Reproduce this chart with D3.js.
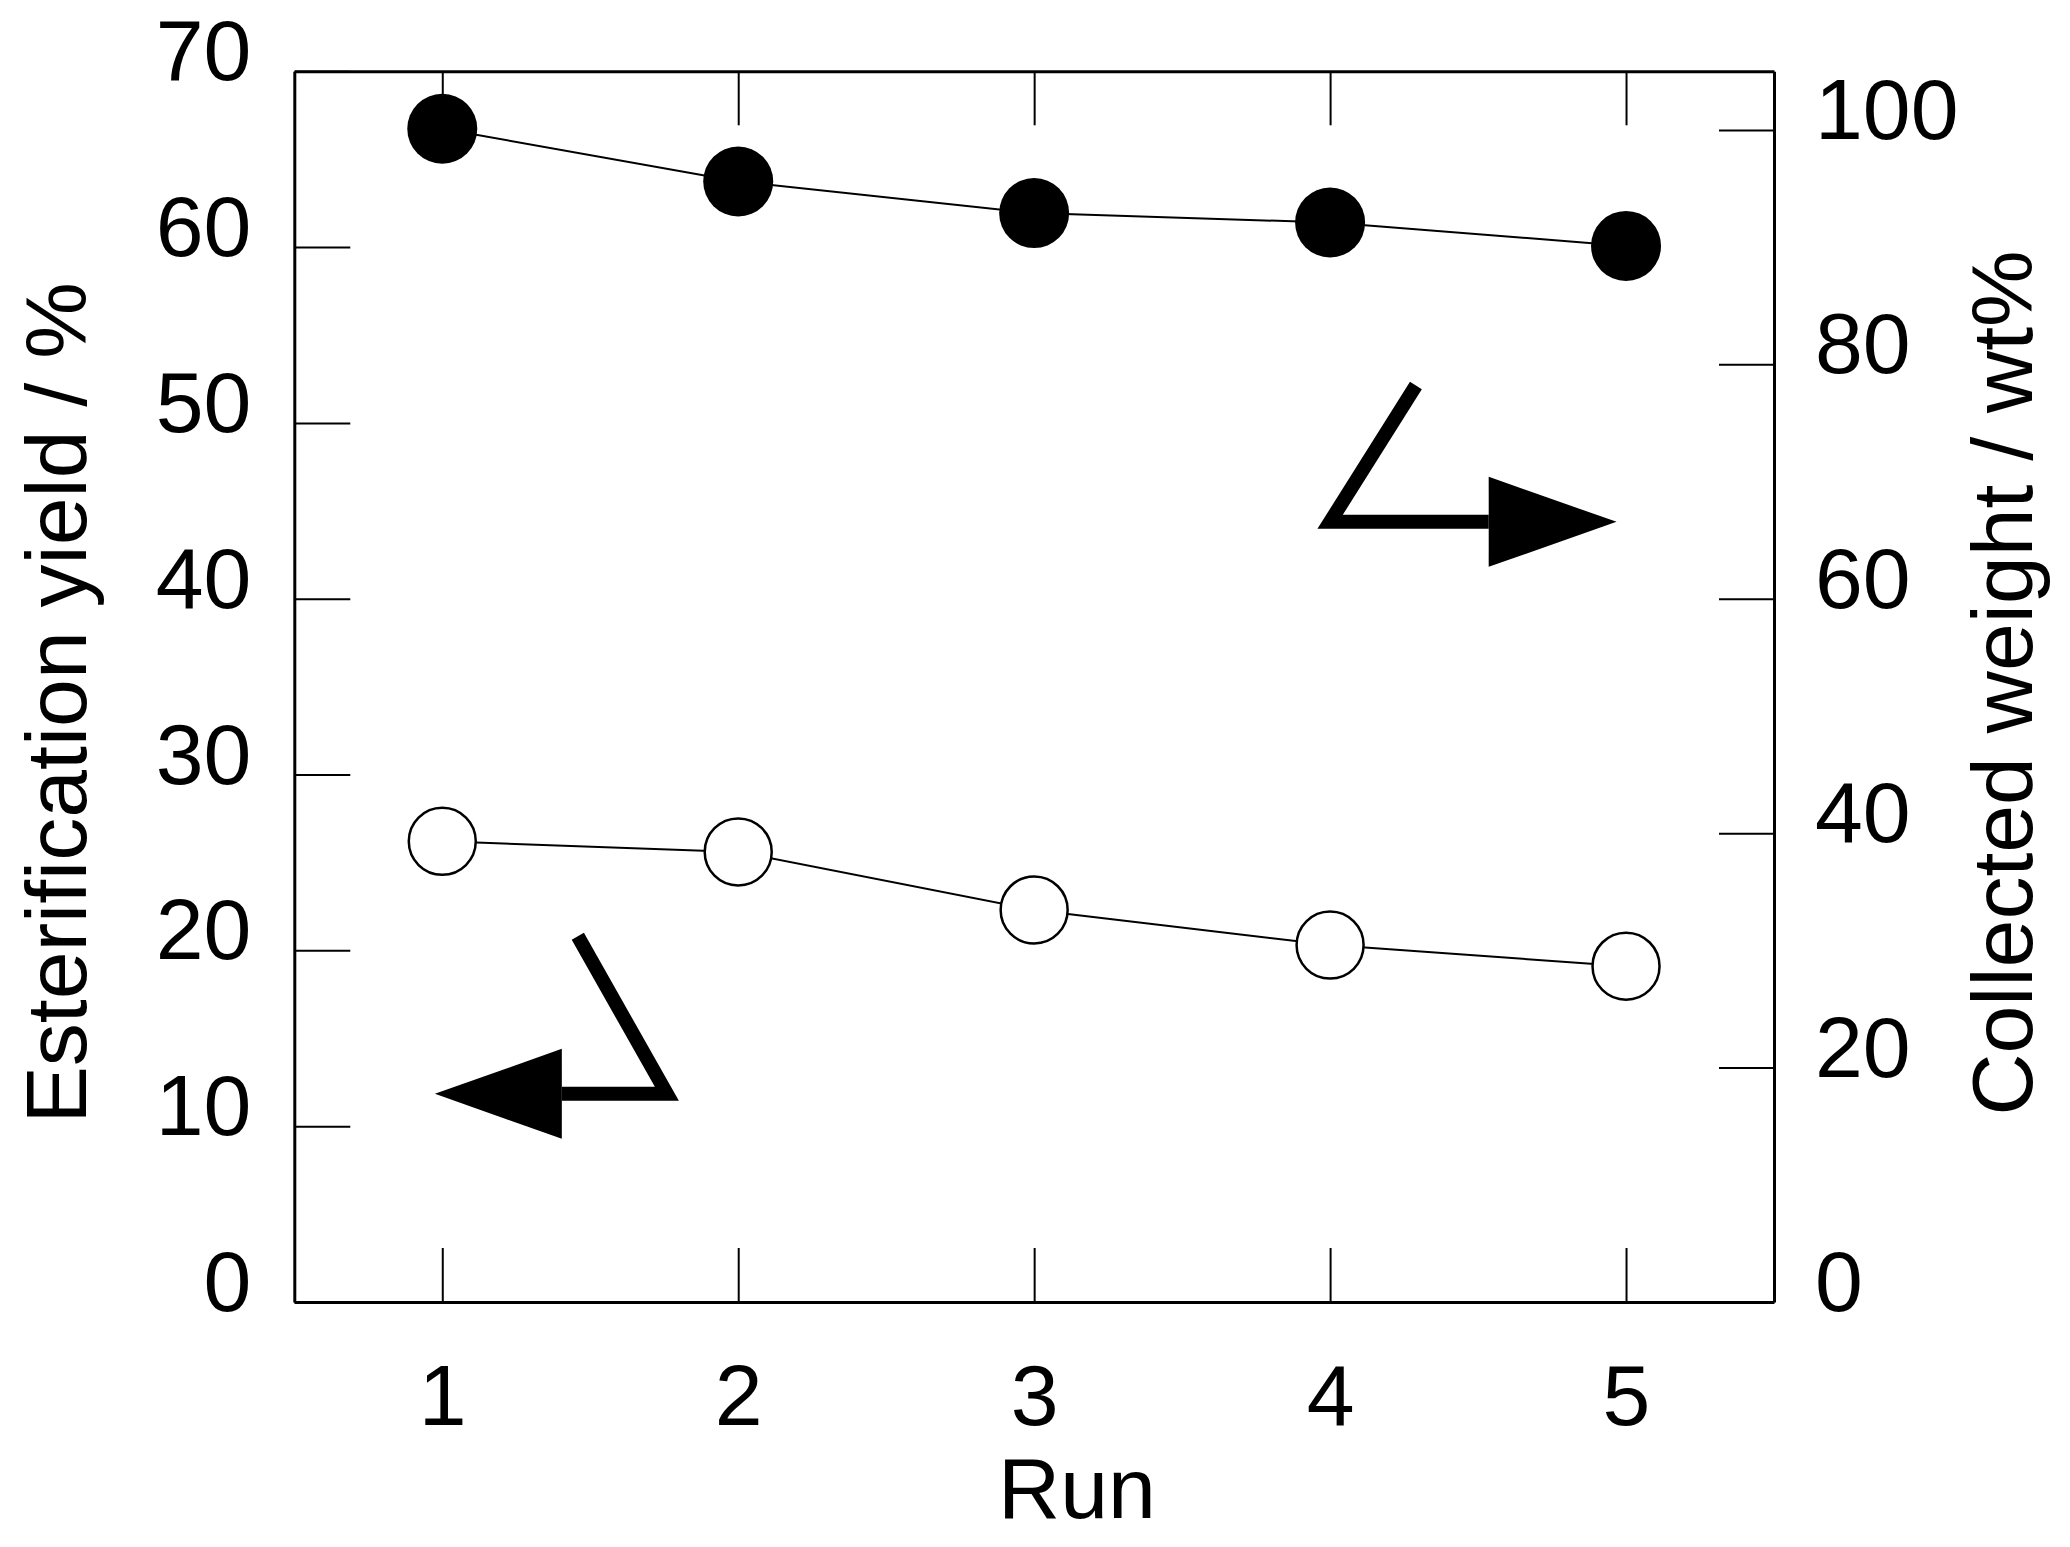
<!DOCTYPE html>
<html>
<head>
<meta charset="utf-8">
<script src="https://cdn.jsdelivr.net/npm/d3@7"></script>
<style>
body { margin: 0; background: #fff; }
text { font-family: "Liberation Sans", Arial, sans-serif; fill: #000; }
</style>
</head>
<body>
<div id="chart"></div>
<script>
// DATA
const runs = [1, 2, 3, 4, 5];
const yieldValues  = [26.2, 25.6, 22.3, 20.3, 19.1];    // open circles, left axis
const weightValues = [100.1, 95.6, 92.9, 92.1, 90.1];   // filled circles, right axis
const yieldTicks  = [0, 10, 20, 30, 40, 50, 60, 70];
const weightTicks = [0, 20, 40, 60, 80, 100];

// annotation arrows in data units: [run, value]
const leftArrowPath  = [[1.458, 20.8], [1.759, 11.84], [1.404, 11.84]];
const leftArrowTip   = [0.975, 11.84];
const rightArrowPath = [[4.29, 78.2], [4.0, 66.56], [4.536, 66.56]];
const rightArrowTip  = [4.968, 66.56];

// LAYOUT
const W = 2070, H = 1547;
const margin = {top: 71.3, right: 296, bottom: 245, left: 294.3};
const innerW = W - margin.left - margin.right;
const innerH = H - margin.top - margin.bottom;
const fontSize = 86;

const svg = d3.select("#chart").append("svg")
  .attr("width", W).attr("height", H)
  .attr("viewBox", `0 0 ${W} ${H}`);
svg.append("rect").attr("width", W).attr("height", H).attr("fill", "#fff");

const g = svg.append("g").attr("transform", `translate(${margin.left},${margin.top})`);

// scales
const x  = d3.scaleLinear().domain([0.5, 5.5]).range([0, innerW]);
const yL = d3.scaleLinear().domain([0, 70]).range([innerH, 0]);
const yR = d3.scaleLinear().domain([0, 105]).range([innerH, 0]);

function styleAxis(sel){
  sel.select(".domain").attr("stroke", "#000").attr("stroke-width", 3);
  sel.selectAll(".tick line").attr("stroke", "#000").attr("stroke-width", 2);
  sel.selectAll(".tick text").style("font-size", fontSize + "px").attr("fill", "#000");
}

// left axis
const leftAx = g.append("g")
  .call(d3.axisLeft(yL).tickValues(yieldTicks).tickSize(-56).tickSizeOuter(0).tickPadding(43));
styleAxis(leftAx);
leftAx.selectAll(".tick text").attr("dy", "0.1em");

// right axis
const rightAx = g.append("g").attr("transform", `translate(${innerW},0)`)
  .call(d3.axisRight(yR).tickValues(weightTicks).tickSize(-55).tickSizeOuter(0).tickPadding(41));
styleAxis(rightAx);
rightAx.selectAll(".tick text").attr("dy", "0.1em");

// bottom axis
const bottomAx = g.append("g").attr("transform", `translate(0,${innerH})`)
  .call(d3.axisBottom(x).tickValues(runs).tickFormat(d3.format("d")).tickSize(-54).tickSizeOuter(0));
styleAxis(bottomAx);
bottomAx.selectAll(".tick text").attr("y", 123).attr("dy", 0);

// top axis (ticks only)
const topAx = g.append("g")
  .call(d3.axisTop(x).tickValues(runs).tickFormat("").tickSize(-54).tickSizeOuter(0));
styleAxis(topAx);

// axis titles
svg.append("text")
  .attr("transform", "translate(86,703) rotate(-90)")
  .attr("text-anchor", "middle")
  .style("font-size", fontSize + "px")
  .text("Esterification yield / %");

svg.append("text")
  .attr("transform", "translate(2032,683) rotate(-90)")
  .attr("text-anchor", "middle")
  .style("font-size", fontSize + "px")
  .text("Collected weight / wt%");

svg.append("text")
  .attr("x", 1077).attr("y", 1518)
  .attr("text-anchor", "middle")
  .style("font-size", fontSize + "px")
  .text("Run");

// series: collected weight (filled)
const lineR = d3.line().x((d, i) => x(runs[i])).y(d => yR(d));
g.append("path").datum(weightValues)
  .attr("d", lineR).attr("fill", "none").attr("stroke", "#000").attr("stroke-width", 2);
g.append("g").selectAll("circle").data(weightValues).join("circle")
  .attr("cx", (d, i) => x(runs[i])).attr("cy", d => yR(d))
  .attr("r", 35).attr("fill", "#000");

// series: esterification yield (open)
const lineL = d3.line().x((d, i) => x(runs[i])).y(d => yL(d));
g.append("path").datum(yieldValues)
  .attr("d", lineL).attr("fill", "none").attr("stroke", "#000").attr("stroke-width", 2);
g.append("g").selectAll("circle").data(yieldValues).join("circle")
  .attr("cx", (d, i) => x(runs[i])).attr("cy", d => yL(d))
  .attr("r", 33.5).attr("fill", "#fff").attr("stroke", "#000").attr("stroke-width", 2.5);

// arrows
function drawArrow(path, tip, yScale){
  const pts = path.map(p => [x(p[0]), yScale(p[1])]);
  g.append("path")
    .attr("d", d3.line()(pts))
    .attr("fill", "none").attr("stroke", "#000")
    .attr("stroke-width", 14).attr("stroke-linejoin", "miter").attr("stroke-linecap", "butt");
  const base = pts[pts.length - 1];
  const t = [x(tip[0]), yScale(tip[1])];
  const half = 45;
  g.append("path")
    .attr("d", `M${base[0]},${base[1] - half}L${t[0]},${t[1]}L${base[0]},${base[1] + half}Z`)
    .attr("fill", "#000");
}
drawArrow(leftArrowPath, leftArrowTip, yL);
drawArrow(rightArrowPath, rightArrowTip, yR);
</script>
</body>
</html>
